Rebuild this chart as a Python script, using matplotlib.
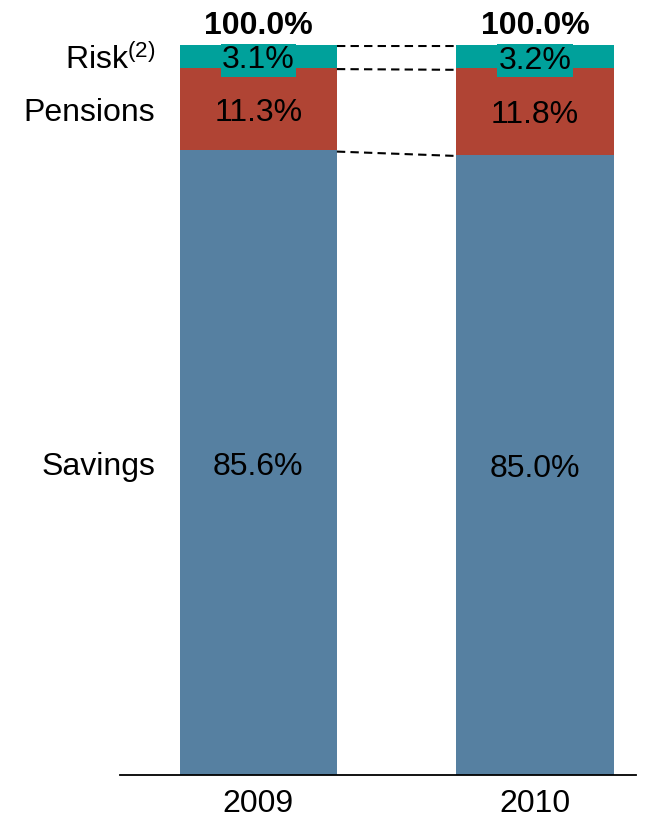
import matplotlib
matplotlib.use("Agg")
import matplotlib.pyplot as plt
import numpy as np

plt.rcParams['font.family'] = ['Liberation Sans', 'DejaVu Sans']
plt.rcParams['mathtext.fontset'] = 'custom'
plt.rcParams['mathtext.rm'] = 'Liberation Sans'
plt.rcParams['mathtext.it'] = 'Liberation Sans'

years = ["2009", "2010"]
segments = ["Savings", "Pensions", "Risk$^{\\rm (2)}$"]
savings = [85.6, 85.0]
pensions = [11.3, 11.8]
risk = [3.1, 3.2]
totals = ["100.0%", "100.0%"]
colors = ["#5680a1", "#b04434", "#00a19b"]

fig = plt.figure(figsize=(6.5, 8.32), dpi=100)
ax = fig.add_axes([120 / 650, 57 / 832, 516 / 650, 730 / 832])

x = np.arange(len(years))
width = 0.568
fs = 23
nudge = 0.55  # push labels slightly below the segment centre
series = [savings, pensions, risk]
bottoms = np.zeros(len(years))
tops = []
for vals, col in zip(series, colors):
    vals = np.array(vals)
    ax.bar(x, vals, width, bottom=bottoms, color=col, edgecolor='none', zorder=2)
    for xi, b, v in zip(x, bottoms, vals):
        kw = {}
        if col == colors[2]:
            kw['bbox'] = dict(facecolor=col, edgecolor='none', pad=1.0)
        ax.text(xi, b + v / 2 - nudge, f"{v:.1f}%", ha='center', va='center',
                fontsize=fs, color='black', zorder=4, **kw)
    bottoms = bottoms + vals
    tops.append(bottoms.copy())

# dashed connectors between the stacked segment boundaries
for t in tops:
    ax.plot([x[0] + width / 2, x[1] - width / 2], [t[0] - 0.2, t[1] - 0.2],
            ls=(0, (4, 2.5)), color='black', lw=1.5, zorder=3)

for xi, lab in zip(x, totals):
    ax.text(xi, 100.6, lab, ha='center', va='bottom', fontsize=fs,
            fontweight='bold', clip_on=False)

# segment names beside the first bar
mids = [savings[0] / 2, savings[0] + pensions[0] / 2,
        savings[0] + pensions[0] + risk[0] / 2]
for name, m in zip(segments, mids):
    ax.text(-0.373, m - nudge, name, ha='right', va='center', fontsize=fs)

ax.set_xlim(-0.5, 1.365)
ax.set_ylim(0, 100)
ax.set_xticks(x)
ax.set_xticklabels(years, fontsize=fs)
ax.tick_params(axis='x', length=0, pad=10)
ax.set_yticks([])
for s in ['top', 'right', 'left']:
    ax.spines[s].set_visible(False)
ax.spines['bottom'].set_linewidth(1.3)
ax.spines['bottom'].set_zorder(5)

fig.savefig("out.png", dpi=100)
